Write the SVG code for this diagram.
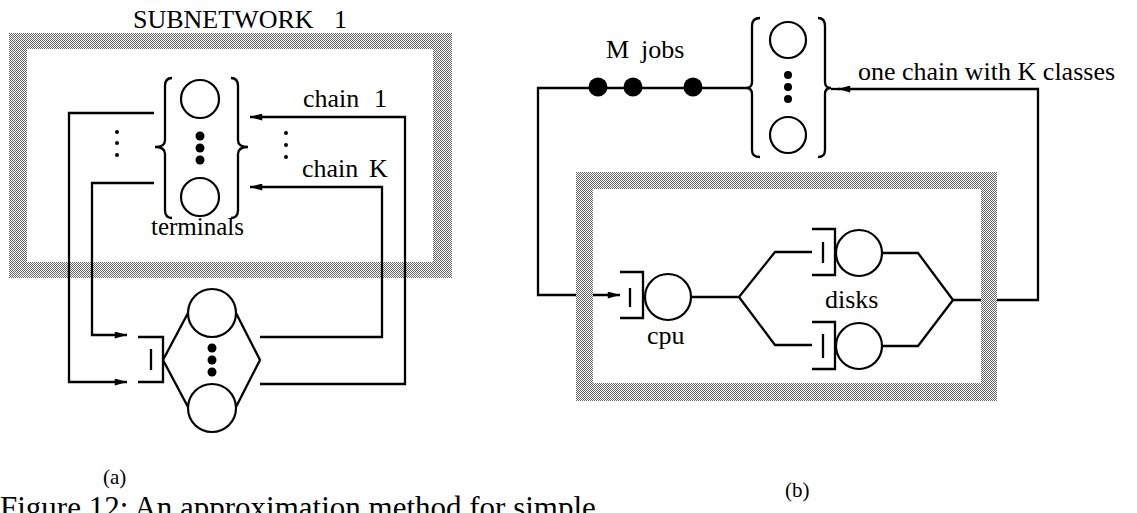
<svg xmlns="http://www.w3.org/2000/svg" width="1137" height="513" viewBox="0 0 1137 513">
<style>
.ln{fill:none;stroke:#000;stroke-width:2.3;stroke-linejoin:miter}
.cir{fill:#fff;stroke:#000;stroke-width:2.2}
.dot{fill:#000}
.t{font-family:"Liberation Serif","Times New Roman",serif;fill:#000;font-size:26px}
.band{fill:url(#dither);fill-rule:evenodd}
</style>
<defs>
<pattern id="dither" width="2" height="2" patternUnits="userSpaceOnUse">
<rect width="2" height="2" fill="#fff"/>
<rect x="0" y="0" width="1" height="1" fill="#666"/>
<rect x="1" y="1" width="1" height="1" fill="#666"/>
</pattern>
<marker id="arr" viewBox="0 0 14 8" refX="14" refY="4" markerWidth="13" markerHeight="7" markerUnits="userSpaceOnUse" orient="auto">
<path d="M0,0 L14,4 L0,8 Z" fill="#000"/>
</marker>
</defs>
<rect width="1137" height="513" fill="#fff"/>

<!-- (a) -->
<text class="t" x="133" y="28">SUBNETWORK<tspan x="334">1</tspan></text>
<path id="subnet1-frame" class="band" d="M9,33 H452 V278 H9 Z M27,49 V262 H433 V49 Z"/>

<g id="a-connectors">
<path class="ln" d="M154,113 L69,113 L69,382 L127,382" marker-end="url(#arr)"/>
<path class="ln" d="M154,183 L92,183 L92,335 L127,335" marker-end="url(#arr)"/>
<path class="ln" d="M260,337 L382,337 L382,187 L250,187" marker-end="url(#arr)"/>
<path class="ln" d="M260,384 L405,384 L405,117 L250,117" marker-end="url(#arr)"/>
</g>

<g id="a-terminals">
<path class="ln" d="M172,78 Q165,78 165,86 L165,140 Q165,147 155,147 Q165,147 165,154 L165,210 Q165,218 172,218"/>
<path class="ln" d="M231,78 Q238,78 238,86 L238,140 Q238,147 248,147 Q238,147 238,154 L238,210 Q238,218 231,218"/>
<circle class="cir" cx="200" cy="99" r="19"/>
<circle class="cir" cx="200" cy="197" r="19"/>
<circle class="dot" cx="200" cy="136" r="4.5"/>
<circle class="dot" cx="200" cy="148" r="4.5"/>
<circle class="dot" cx="200" cy="160" r="4.5"/>
<text class="t" x="151" y="235" style="font-size:25px">terminals</text>
</g>
<g id="a-dots-left">
<circle class="dot" cx="117" cy="132" r="2"/>
<circle class="dot" cx="117" cy="143" r="2"/>
<circle class="dot" cx="117" cy="155" r="2"/>
</g>
<g id="a-dots-right">
<circle class="dot" cx="286" cy="133" r="2"/>
<circle class="dot" cx="286" cy="145" r="2"/>
<circle class="dot" cx="286" cy="157" r="2"/>
</g>
<text class="t" x="303" y="107">chain<tspan x="374">1</tspan></text>
<text class="t" x="302" y="177">chain<tspan x="369">K</tspan></text>

<g id="a-station">
<path class="ln" d="M138,337 L163,337 L163,382 L138,382"/>
<path class="ln" d="M151,349 L151,370"/>
<path class="ln" d="M188,313 L163,360 L188,407 M236,313 L260,360 L236,407"/>
<circle class="cir" cx="212" cy="313" r="24"/>
<circle class="cir" cx="212" cy="408" r="24"/>
<circle class="dot" cx="212" cy="348" r="4.5"/>
<circle class="dot" cx="212" cy="360" r="4.5"/>
<circle class="dot" cx="212" cy="372" r="4.5"/>
</g>

<!-- (b) -->
<g id="b-connectors">
<path class="ln" d="M746,88 L538,88 L538,295 L620,295" marker-end="url(#arr)"/>
<path class="ln" d="M691,297 L739,297 M739,297 L775,252 L812,252 M739,297 L775,345 L812,345"/>
<path class="ln" d="M882,253 L918,253 L953,300 M882,346 L918,346 L953,300"/>
<path class="ln" d="M953,300 L1038,300 L1038,89 L838,89" marker-end="url(#arr)"/>
<path class="ln" d="M840,89 L831,89"/>
</g>

<g id="b-jobs">
<circle class="dot" cx="598" cy="87" r="9.5"/>
<circle class="dot" cx="633" cy="87" r="9.5"/>
<circle class="dot" cx="693" cy="87" r="9.5"/>
<text class="t" x="606" y="58">M<tspan x="641">jobs</tspan></text>
</g>

<g id="b-terminals">
<path class="ln" d="M760,18 Q752,18 752,26 L752,82 Q752,88 746,88 Q752,88 752,94 L752,150 Q752,157 760,157"/>
<path class="ln" d="M818,18 Q825,18 825,26 L825,82 Q825,88 831,88 Q825,88 825,94 L825,150 Q825,157 818,157"/>
<circle class="cir" cx="788" cy="40" r="18"/>
<circle class="cir" cx="788" cy="135" r="18"/>
<circle class="dot" cx="788" cy="75" r="4"/>
<circle class="dot" cx="788" cy="87" r="4"/>
<circle class="dot" cx="788" cy="99" r="4"/>
</g>
<text class="t" x="858" y="80">one chain with K classes</text>

<g id="b-cpu">
<path class="ln" d="M620,272 L643,272 L643,318 L620,318"/>
<path class="ln" d="M630,288 L630,307"/>
<circle class="cir" cx="668" cy="297" r="23"/>
<text class="t" x="647" y="344">cpu</text>
</g>

<g id="b-disk1">
<path class="ln" d="M812,229 L835,229 L835,275 L812,275"/>
<path class="ln" d="M823,242 L823,263"/>
<circle class="cir" cx="859" cy="253" r="23"/>
</g>
<g id="b-disk2">
<path class="ln" d="M812,322 L835,322 L835,369 L812,369"/>
<path class="ln" d="M823,334 L823,358"/>
<circle class="cir" cx="859" cy="346" r="23"/>
</g>
<text class="t" x="825" y="308">disks</text>

<path id="subnet-b-frame" class="band" d="M576,172 H997 V401 H576 Z M593,189 V383 H981 V189 Z"/>

<!-- captions -->
<text class="t" x="103" y="484" style="font-size:21px">(a)</text>
<text class="t" x="785" y="497" style="font-size:21px">(b)</text>
<text class="t" x="0" y="518" style="font-size:31px">Figure 12: An approximation method for simple</text>
</svg>
